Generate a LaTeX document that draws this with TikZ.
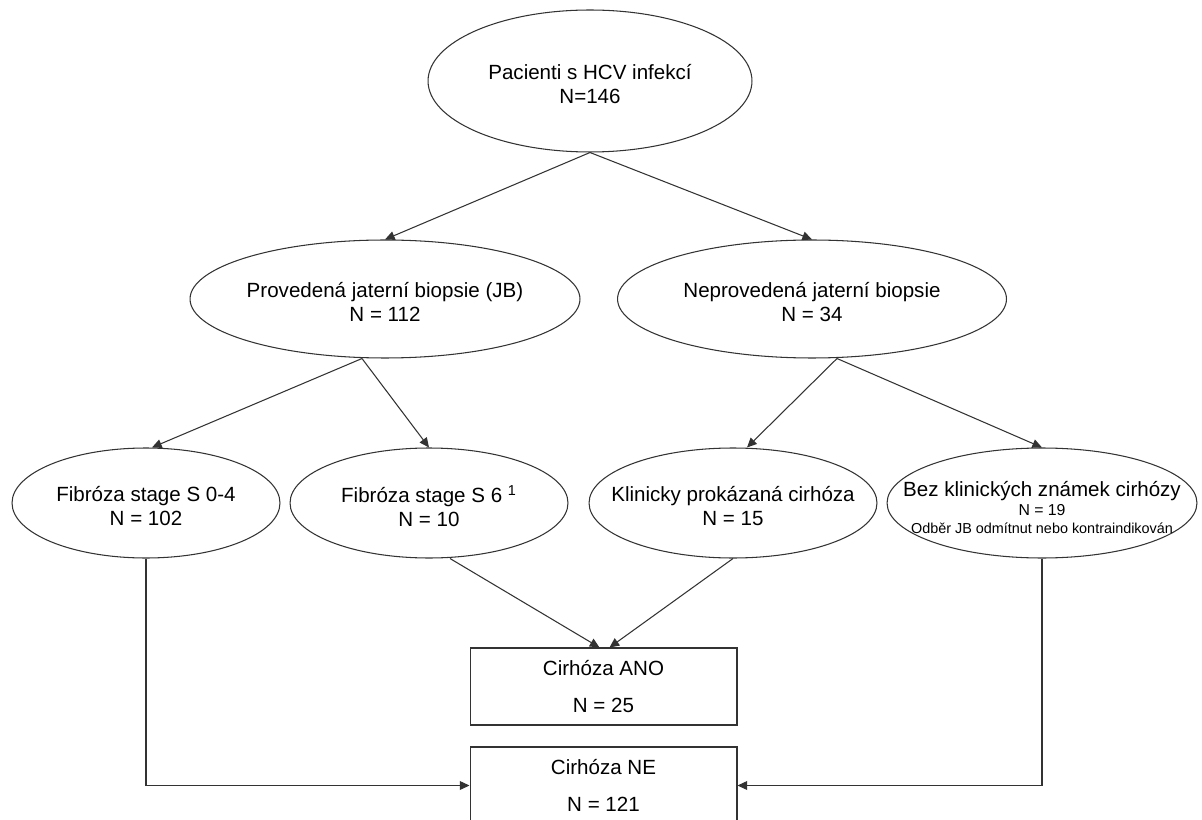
\documentclass[tikz,border=0pt]{standalone}
\usepackage{fontspec}
\setmainfont{Liberation Sans}
\usetikzlibrary{shapes.geometric,arrows.meta,calc}

\newcommand{\ovaltxt}[1]{\makebox[0pt]{\parbox{9cm}{\centering\vspace*{3.5pt}#1}}}

\tikzset{
  oval/.style={ellipse, draw=black!80, line width=0.6pt, inner sep=0pt,
               font=\fontsize{11.7}{13.5}\selectfont},
  outbox/.style={rectangle, draw=black!80, line width=0.6pt, inner sep=0pt,
               minimum width=5.34cm, minimum height=1.54cm, align=center,
               font=\fontsize{11.7}{21.5}\selectfont},
  arr/.style={draw=black!80, line width=0.6pt, -{Triangle[length=5.5pt,width=5pt]}}
}

\begin{document}
\begin{tikzpicture}[x=0.02cm,y=-0.02cm]

\clip (0,0) rectangle (1202,820);
\fill[white] (0,0) rectangle (1202,820);

\coordinate (cTopPt)   at (590,81);
\coordinate (cProvPt)  at (385,299);
\coordinate (cNeprPt)  at (812,299);
\coordinate (cFibAPt)  at (146,503);
\coordinate (cFibBPt)  at (429,503);
\coordinate (cKlinPt)  at (733,503);
\coordinate (cBezPt)   at (1042,503);
\coordinate (cAnoPt)   at (603.5,686.5);
\coordinate (cNePt)    at (603.5,785.5);

\node[oval, minimum width=6.48cm, minimum height=2.84cm] (top) at (cTopPt)
  {\ovaltxt{Pacienti s HCV infekcí\\N=146}};
\node[oval, minimum width=7.8cm, minimum height=2.36cm] (provJB) at (cProvPt)
  {\ovaltxt{Provedená jaterní biopsie (JB)\\N = 112}};
\node[oval, minimum width=7.78cm, minimum height=2.36cm] (neprovJB) at (cNeprPt)
  {\ovaltxt{Neprovedená jaterní biopsie\\N = 34}};
\node[oval, minimum width=5.36cm, minimum height=2.2cm] (fibA) at (cFibAPt)
  {\ovaltxt{Fibróza stage S 0-4\\N = 102}};
\node[oval, minimum width=5.56cm, minimum height=2.2cm] (fibB) at (cFibBPt)
  {\ovaltxt{Fibróza stage S 6 \textsuperscript{1}\\N = 10}};
\node[oval, minimum width=5.76cm, minimum height=2.2cm] (klin) at (cKlinPt)
  {\ovaltxt{Klinicky prokázaná cirhóza\\N = 15}};
\node[oval, minimum width=6.2cm, minimum height=2.2cm] (bez) at (cBezPt)
  {\ovaltxt{\vspace*{1.5pt}Bez klinických známek cirhózy\par
    \fontsize{9}{11.3}\selectfont N = 19\par
    \fontsize{8.2}{10.2}\selectfont Odběr JB odmítnut nebo kontraindikován}};

\node[outbox] (ano) at (cAnoPt) {Cirhóza ANO\\N = 25};
\node[outbox] (ne)  at (cNePt)  {Cirhóza NE\\N = 121};

% free ends of the connectors
\coordinate (cProvOut) at ($(provJB.south)+(-23,0)$);
\coordinate (cNeprOut) at ($(neprovJB.south)+(25,0)$);
\coordinate (cFibBOut) at ($(fibB.south)+(21,0)$);
\coordinate (cFibAIn)  at ($(fibA.north)+(6,0)$);
\coordinate (cKlinIn)  at ($(klin.north)+(14,0)$);
\coordinate (cAnoInA)  at ($(ano.north)+(-4,0)$);
\coordinate (cAnoInB)  at ($(ano.north)+(6,0)$);

\foreach \s/\t in
{   top.south/provJB.north,
    top.south/neprovJB.north,
    cProvOut/cFibAIn,
    cProvOut/fibB.north,
    cNeprOut/cKlinIn,
    cNeprOut/bez.north,
    cFibBOut/cAnoInA,
    klin.south/cAnoInB%
}
{
    \draw[arr] (\s) -- (\t);
};

\draw[arr] (fibA.south) |- (ne.west);
\draw[arr] (bez.south) |- (ne.east);

\end{tikzpicture}
\end{document}
